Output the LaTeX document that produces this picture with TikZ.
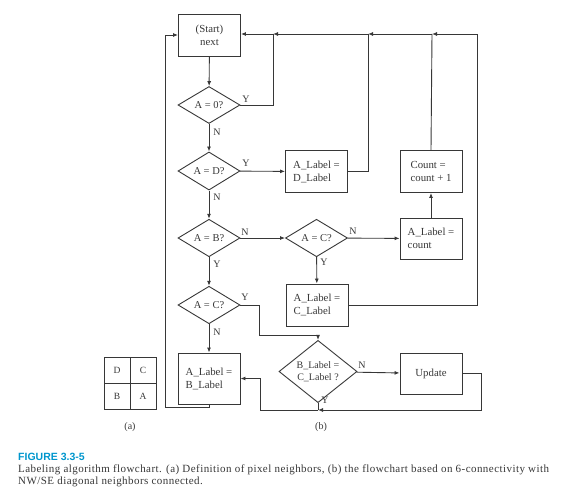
\documentclass[tikz,border=0pt]{standalone}
\usepackage{fontspec}
\setmainfont{Liberation Serif}
\newfontfamily\figsans{Liberation Sans}
\newfontfamily\capserif[LetterSpace=4]{Liberation Serif}
\usetikzlibrary{arrows.meta,shapes.geometric,positioning}
\definecolor{figblue}{RGB}{0,150,205}
\definecolor{ink}{RGB}{55,55,55}

\begin{document}
\begin{tikzpicture}[x=1pt,y=-1pt]
\tikzset{
  box/.style={rectangle,draw=ink,line width=0.9pt,minimum width=62pt,minimum height=42pt,inner sep=2pt,align=left,font=\fontsize{10.8}{13}\selectfont,text=ink},
  test/.style={diamond,draw=ink,line width=0.9pt,minimum width=62pt,minimum height=37pt,inner sep=0pt,align=center,font=\fontsize{10.5}{12}\selectfont,text=ink},
  cell/.style={rectangle,draw=ink,line width=0.7pt,minimum size=26pt,inner sep=0pt,font=\fontsize{9.5}{10}\selectfont,text=ink},
  yn/.style={inner sep=0pt,font=\fontsize{10}{11}\selectfont,text=ink},
  flow/.style={draw=ink,line width=0.9pt,line join=miter},
  arrow/.style={flow,-{Latex[length=5pt,width=4pt]}}
}
\useasboundingbox (0,0) rectangle (573,490);
% flowchart nodes
\node[box,align=center] (n_start) at (209.5,35) {(Start)\\next};
\node[test] (n_a0) at (209,105) {A = 0?};
\node[test] (n_ad) at (209,171) {A = D?};
\node[test] (n_ab) at (209,238) {A = B?};
\node[test] (n_ac1) at (209,305) {A = C?};
\node[test] (n_ac2) at (316.5,238) {A = C?};
\node[box] (n_dlab) at (316.5,171.5) {A\_Label =\\D\_Label};
\node[box,minimum height=41pt] (n_acount) at (431,238.5) {A\_Label =\\count};
\node[box] (n_count) at (431,171.5) {Count =\\count + 1};
\node[box] (n_clab) at (317,305) {A\_Label =\\C\_Label};
\node[box,minimum height=51pt] (n_blab) at (209,378.5) {A\_Label =\\B\_Label};
\node[test,minimum width=78pt,minimum height=47pt,font=\fontsize{10}{11.5}\selectfont] (n_bc) at (318,371.5) {B\_Label =\\C\_Label ?};
\node[box,align=center,minimum height=41pt] (n_upd) at (431,373.5) {Update};
% neighbour grid
\node[cell] (g_D) at (117,370) {D};
\node[cell] (g_C) at (143,370) {C};
\node[cell] (g_B) at (117,396) {B};
\node[cell] (g_A) at (143,396) {A};
\node[yn] (t_a) at (130,427) {(a)};
\node[yn] (t_b) at (321,427) {(b)};
% junctions
\coordinate (j1) at (273,34);
\coordinate (j2) at (368,34);
\coordinate (j3) at (432,34);
\coordinate (j4) at (477,34);
\coordinate (l1) at (165,407);
\coordinate (b1) at (259,335);
\coordinate (m1) at (318,410);
\coordinate (u1) at (481,410);
\coordinate (b2) at (260,378.5);
% main column
\draw[arrow] (n_start) -- (n_a0);
\draw[arrow] (n_a0) -- (n_ad);
\draw[arrow] (n_ad) -- (n_ab);
\draw[arrow] (n_ab) -- (n_ac1);
\draw[arrow] (n_ac1) -- (n_blab);
\draw[arrow] (n_ad) -- (n_dlab);
\draw[arrow] (n_ab) -- (n_ac2);
\draw[arrow] (n_ac2) -- (n_acount);
\draw[arrow] (n_ac2) -- (n_clab);
\draw[arrow] (n_acount) -- (n_count);
\draw[arrow] (n_bc) -- (n_upd);
% return lines
\draw[flow] (n_a0.east) -| (j1);
\draw[arrow] (j1) -- (n_start.east |- j1);
\draw[flow] (n_dlab.east) -| (j2);
\draw[arrow] (j2) -- (j1);
\draw[flow] (n_count.north) -- (j3);
\draw[arrow] (j3) -- (j2);
\draw[flow] (n_clab.east) -| (j4);
\draw[arrow] (j4) -- (j3);
\draw[arrow] (n_blab.south) |- (l1) |- (n_start.west);
\draw[arrow] (n_ac1.east) -| (b1) -| (n_bc.north);
\draw[flow] (n_bc.south) -- (m1);
\draw[arrow] (n_upd.east) -| (u1) -- (m1);
\draw[arrow] (m1) -| (b2) -- (n_blab.east);
% branch labels
\node[yn] (y_a0) at (246,99) {Y};
\node[yn] (n_a0l) at (217,132) {N};
\node[yn] (y_ad) at (246,163) {Y};
\node[yn] (n_adl) at (217,197) {N};
\node[yn] (n_abl) at (245,232) {N};
\node[yn] (y_abl) at (217,264) {Y};
\node[yn] (n_ac2l) at (353,231) {N};
\node[yn] (y_ac2l) at (324,262) {Y};
\node[yn] (y_ac1l) at (245,297) {Y};
\node[yn] (n_ac1l) at (217,332) {N};
\node[yn] (n_bcl) at (362,365) {N};
\node[yn] (y_bcl) at (325,400) {Y};
% caption
\node[anchor=base west,inner sep=0pt,text=figblue,font=\figsans\bfseries\fontsize{10.5}{11}\selectfont] (cap_no) at (18,460) {FIGURE 3.3-5};
\node[anchor=base west,inner sep=0pt,align=left,font=\capserif\fontsize{11}{12}\selectfont,text=ink] (cap_txt) at (18,484) {Labeling algorithm flowchart. (a) Definition of pixel neighbors, (b) the flowchart based on 6-connectivity with\\NW/SE diagonal neighbors connected.};
\end{tikzpicture}
\end{document}
